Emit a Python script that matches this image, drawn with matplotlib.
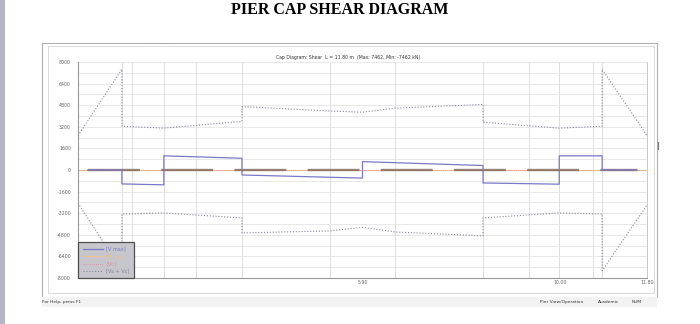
import matplotlib.pyplot as plt
from matplotlib.patches import Rectangle

plt.rcParams["axes.unicode_minus"] = False

# support / face positions along the cap (m)
grid_x = [0.91, 1.12, 1.78, 2.45, 3.40, 5.22, 6.58, 8.40, 9.35, 9.98, 10.68, 10.87]

# shear envelope V max (kN)
vmax_x = [0.20, 0.91, 0.91, 1.78, 1.78, 3.40, 3.40, 5.90, 5.90, 8.40, 8.40, 9.98, 9.98, 10.87, 10.87, 11.60]
vmax_y = [0, 0, -1030, -1100, 1050, 870, -370, -600, 620, 330, -960, -1050, 1050, 1050, 0, 0]

# zero lines
zero_x = [0.0, 11.80]
zero_y = [0, 0]
dash_x = [0.20, 11.60]

# capacity Vs + Vc (kN)
cap_x = [0.0, 0.91, 0.91, 1.78, 3.40, 3.40, 5.22, 5.90, 6.58, 8.40, 8.40, 9.98, 10.87, 10.87, 11.80]
cap_up = [2550, 7462, 3240, 3100, 3600, 4700, 4370, 4280, 4580, 4860, 3540, 3100, 3240, 7462, 2550]
cap_lo = [-2450, -7462, -3260, -3180, -3550, -4660, -4510, -4250, -4590, -4880, -3550, -3180, -3260, -7462, -2600]

y_ticks = [8000, 6400, 4800, 3200, 1600, 0, -1600, -3200, -4800, -6400, -8000]
x_ticks = [5.90, 10.00, 11.80]
x_labels = ["5.90", "10.00", "11.80"]

fig = plt.figure(figsize=(7, 3.24), dpi=100)

# window chrome drawn in pixel coords
bg = fig.add_axes([0, 0, 1, 1])
bg.set_xlim(0, 700)
bg.set_ylim(324, 0)
bg.axis("off")
bg.add_patch(Rectangle((0, 0), 5, 324, color="#b4b6c4", lw=0))
bg.add_patch(Rectangle((42, 43), 615, 254, fill=False, ec="#b0b0b0", lw=0.8))
bg.add_patch(Rectangle((48, 46), 606, 247, fill=False, ec="#d4d4d4", lw=0.6))
bg.add_patch(Rectangle((42, 297), 615, 10, color="#f2f2f2", lw=0))
bg.plot([657.5, 657.5], [142, 149], color="#777777", lw=0.8)
bg.text(340, 10, "PIER CAP SHEAR DIAGRAM", ha="center", va="center",
        fontsize=11.5, fontweight="bold", family="Liberation Serif")
bg.text(145, 43, "- - - - - - - - - -", fontsize=3, color="#999999", va="center")
bg.text(348, 57, "Cap Diagram: Shear  L = 11.80 m  (Max: 7462, Min: -7462 kN)",
        ha="center", va="center", fontsize=3.3, color="#333333")
bg.text(42, 302, "For Help, press F1", fontsize=3.2, va="center", color="#333333")
bg.text(540, 302, "Pier View/Operation", fontsize=3.2, va="center", color="#333333")
bg.text(598, 302, "Academic", fontsize=3.2, va="center", color="#333333")
bg.text(632, 302, "NUM", fontsize=3.2, va="center", color="#333333")

ax = fig.add_axes([78 / 700, 1 - 278 / 324, (647 - 78) / 700, (278 - 62) / 324])
ax.set_xlim(0, 11.8)
ax.set_ylim(-8000, 8000)
ax.set_facecolor("white")

ax.set_yticks(y_ticks)
ax.set_yticks(range(-8000, 8001, 800), minor=True)
ax.set_xticks(x_ticks)
ax.set_xticklabels(x_labels)
ax.tick_params(axis="both", which="both", length=0, labelsize=3.4, labelcolor="#666666")
ax.tick_params(axis="y", pad=5)
ax.tick_params(axis="x", pad=1.5)
ax.grid(axis="y", which="both", color="#e4e4e4", lw=0.6)
for gx in grid_x:
    ax.axvline(gx, color="#d8d8d8", lw=0.6, zorder=0)

for side in ["left", "bottom"]:
    ax.spines[side].set_color("#999999")
    ax.spines[side].set_linewidth(0.8)
ax.spines["right"].set_color("#c0c0c0")
ax.spines["right"].set_linewidth(0.6)
ax.spines["top"].set_visible(False)

ax.plot(zero_x, zero_y, color="#f2c08e", lw=0.7, label="[V min]", zorder=2)
ax.plot(zero_x, zero_y, color="#e08a96", lw=0.6, linestyle=(0, (1, 1.5)), label="[Vc]", zorder=2)
ax.plot(dash_x, zero_y, color="#7d6658", lw=1.7, linestyle=(0, (22, 9)), alpha=0.8, zorder=3)
ax.plot(vmax_x, vmax_y, color="#7a78c8", lw=0.9, label="[V max]", zorder=4)
ax.plot(cap_x, cap_up, color="#86869a", lw=0.8, linestyle=(0, (1, 1.6)), label="[Vs + Vc]", zorder=3)
ax.plot(cap_x, cap_lo, color="#86869a", lw=0.8, linestyle=(0, (1, 1.6)), zorder=3)

handles, labels = ax.get_legend_handles_labels()
order = [2, 0, 1, 3]
leg = ax.legend([handles[i] for i in order], [labels[i] for i in order],
                loc="lower left", bbox_to_anchor=(0, 0), borderaxespad=0,
                fontsize=3.6, handlelength=4, labelcolor="linecolor",
                frameon=True, fancybox=False, borderpad=0.9, labelspacing=0.45)
leg.get_frame().set_facecolor("#c6c6cc")
leg.get_frame().set_edgecolor("#505050")
leg.get_frame().set_linewidth(0.9)
leg.get_frame().set_alpha(1)

fig.savefig("out.png", dpi=100)
